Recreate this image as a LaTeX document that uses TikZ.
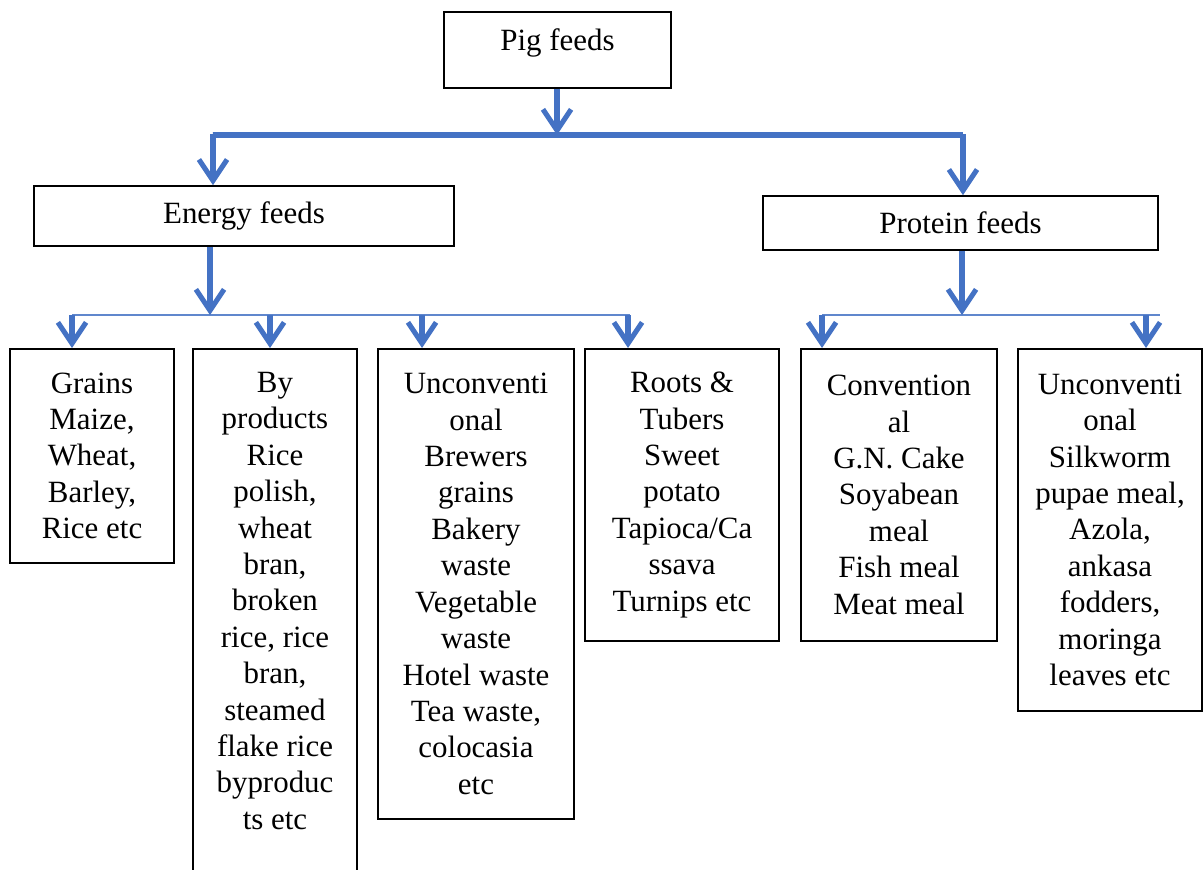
\documentclass[tikz,border=0pt]{standalone}
\usepackage{fontspec}
\setmainfont{Liberation Serif}
\usepackage{tikz}
\usetikzlibrary{arrows.meta,calc,positioning}
\definecolor{FeedBlue}{RGB}{68,114,196}

\begin{document}
\begin{tikzpicture}[x=0.025cm,y=-0.025cm,
    feedbox/.style={draw,line width=1.2pt,align=center,inner sep=2pt,
      font=\fontsize{22}{25.9}\selectfont},
    fat/.style={FeedBlue,line width=3.6pt,
      -{Straight Barb[length=15pt,width=20pt]}},
    fatbar/.style={FeedBlue,line width=3.6pt},
    thinbar/.style={FeedBlue!85,line width=1.4pt}]
      \useasboundingbox (0,0) rectangle (1203,869);
      % top levels
      \node[feedbox,minimum width=5.675cm,minimum height=1.9cm,
        text height=16pt,text depth=15pt]
        (pig) at (557.5,50) {Pig feeds};
      \node[feedbox,minimum width=10.5cm,minimum height=1.5cm]
        (energy) at (244,216) {Energy feeds};
      \node[feedbox,minimum width=9.875cm,minimum height=1.35cm]
        (protein) at (960.5,223) {Protein feeds};
      % energy feed classes
      \node[feedbox,anchor=north,minimum width=4.1cm,minimum height=5.35cm]
        (grains) at (92,348) {Grains\\Maize,\\Wheat,\\Barley,\\Rice etc};
      \node[feedbox,anchor=north,minimum width=4.1cm,minimum height=13.5cm]
        (byprod) at (275,348) {By\\products\\Rice\\polish,\\wheat\\bran,\\broken\\rice, rice\\bran,\\steamed\\flake rice\\byproduc\\ts etc\\ };
      \node[feedbox,anchor=north,minimum width=4.9cm,minimum height=11.75cm]
        (unconvE) at (476,348) {Unconventi\\onal\\Brewers\\grains\\Bakery\\waste\\Vegetable\\waste\\Hotel waste\\Tea waste,\\colocasia\\etc};
      \node[feedbox,anchor=north,minimum width=4.85cm,minimum height=7.3cm]
        (roots) at (682,348) {Roots \&\\Tubers\\Sweet\\potato\\Tapioca/Ca\\ssava\\Turnips etc};
      % protein feed classes
      \node[feedbox,anchor=north,minimum width=4.9cm,minimum height=7.3cm]
        (conv) at (899,348) {Convention\\al\\G.N. Cake\\Soyabean\\meal\\Fish meal\\Meat meal};
      \node[feedbox,anchor=north,minimum width=4.6cm,minimum height=9.05cm]
        (unconvP) at (1110,348) {Unconventi\\onal\\Silkworm\\pupae meal,\\Azola,\\ankasa\\fodders,\\moringa\\leaves etc};
      % top split
      \coordinate (tl) at (213,135);
      \coordinate (tm) at (557,135);
      \coordinate (tr) at (963,135);
      \draw[fatbar] ($(tl)+(0,-1)$) -- (tl) -- (tr) -- ($(tr)+(0,-1)$);
      \draw[fat] (pig.south -| tm) -- (tm);
      \draw[fat] (tl) -- (tl |- energy.north);
      \draw[fat] (tr) -- (tr |- protein.north);
      % energy split
      \coordinate (em) at (210,315);
      \coordinate (el) at (72,315);
      \coordinate (er) at (630,315);
      \draw[thinbar] (el) -- (er);
      \draw[fat] (em |- energy.south) -- (em);
      \draw[fat] (el) -- (el |- grains.north);
      \draw[fat] (270,315) -- (270,348 |- byprod.north);
      \draw[fat] (422,315) -- (422,348 |- unconvE.north);
      \draw[fat] (628,315) -- (628,348 |- roots.north);
      % protein split
      \coordinate (pm) at (962,315);
      \coordinate (pl) at (822,315);
      \coordinate (pr) at (1160,315);
      \draw[thinbar] (pl) -- (pr);
      \draw[fat] (pm |- protein.south) -- (pm);
      \draw[fat] (pl) -- (pl |- conv.north);
      \draw[fat] (1146,315) -- (1146,348 |- unconvP.north);
    \end{tikzpicture}
\end{document}
